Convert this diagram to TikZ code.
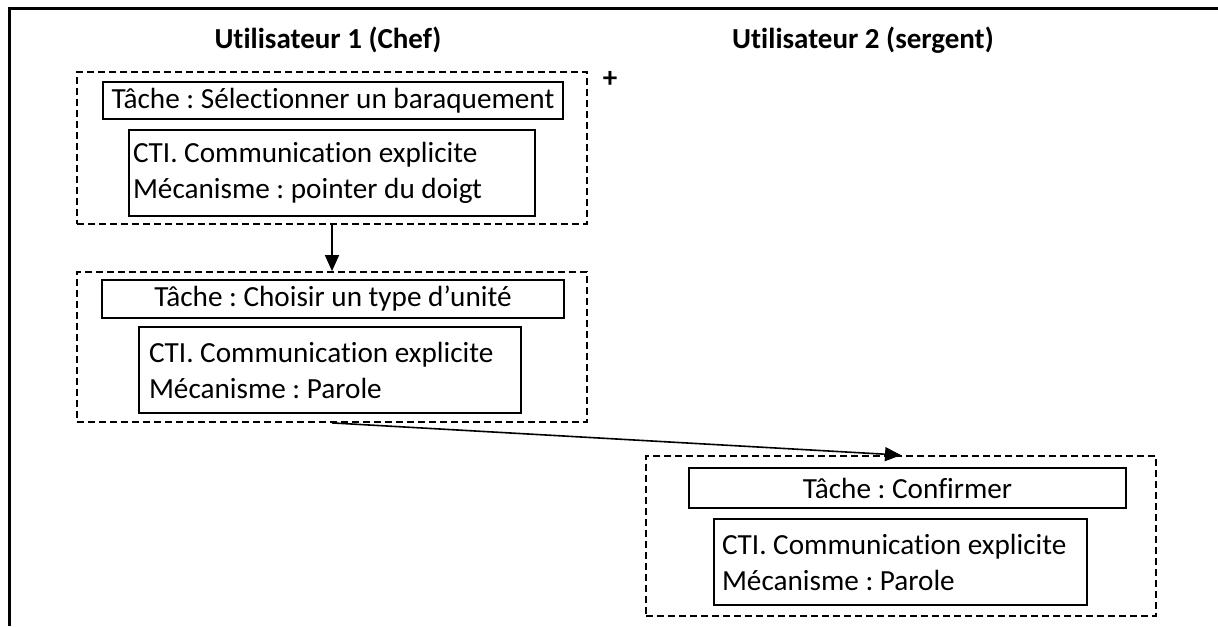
\documentclass[tikz,border=0pt]{standalone}
\usepackage{fontspec}
\setmainfont{Carlito}[Ligatures=NoCommon]
\frenchspacing
\usetikzlibrary{arrows.meta}
\begin{document}
\begin{tikzpicture}[x=0.5pt, y=-0.5pt,
    every node/.style={font=\fontsize{14.6}{18}\selectfont, inner sep=0pt},
    groupe/.style={draw, dash pattern=on 3.5pt off 2pt, line width=0.9pt},
    tache/.style={draw, line width=1.1pt, align=center},
    cti/.style={draw, line width=1.1pt, align=flush left, minimum height=43pt},
    titre/.style={font=\fontsize{14.5}{16}\selectfont\bfseries},
    fleche/.style={-{Triangle[length=8pt,width=7pt]}, line width=0.8pt}]
    \useasboundingbox (0,0) rectangle (1218,626);
    % Frame
    \draw[line width=1.5pt] (1218,9) -- (9,9) -- (9,626);
    % Users
    \node[titre] (user1) at (328,40) {Utilisateur 1 (Chef)};
    \node[titre] (user2) at (863,40) {Utilisateur 2 (sergent)};
    % Groups
    \node[groupe, minimum width=255pt, minimum height=76pt] (grp1) at (332,148) {};
    \node[groupe, minimum width=255pt, minimum height=75pt] (grp2) at (332,347) {};
    \node[groupe, minimum width=255pt, minimum height=80pt] (grp3) at (901,536) {};
    \node[titre] (plus) at (610,79) {+};
    % Tasks
    \node[tache, minimum width=230pt, minimum height=18.5pt] (tache1) at (333,100.5) {Tâche : Sélectionner un baraquement};
    \node[tache, minimum width=231pt, minimum height=19pt] (tache2) at (333,299) {Tâche : Choisir un type d’unité};
    \node[tache, minimum width=218.5pt, minimum height=20pt] (tache3) at (907.5,488) {Tâche : Confirmer};
    % CTI
    \node[cti, text width=199pt, inner xsep=2pt] (cti1) at (332,173) {CTI. Communication explicite\\Mécanisme : pointer du doigt};
    \node[cti, text width=181pt, inner xsep=5pt] (cti2) at (330,370) {CTI. Communication explicite\\Mécanisme : Parole};
    \node[cti, text width=178.5pt, inner xsep=4pt] (cti3) at (900.5,562) {CTI. Communication explicite\\Mécanisme : Parole};
    % Links
    \draw[fleche] (grp1.south) -- (grp2.north);
    \draw[fleche] (grp2.south) -- (grp3.north);
\end{tikzpicture}
\end{document}
